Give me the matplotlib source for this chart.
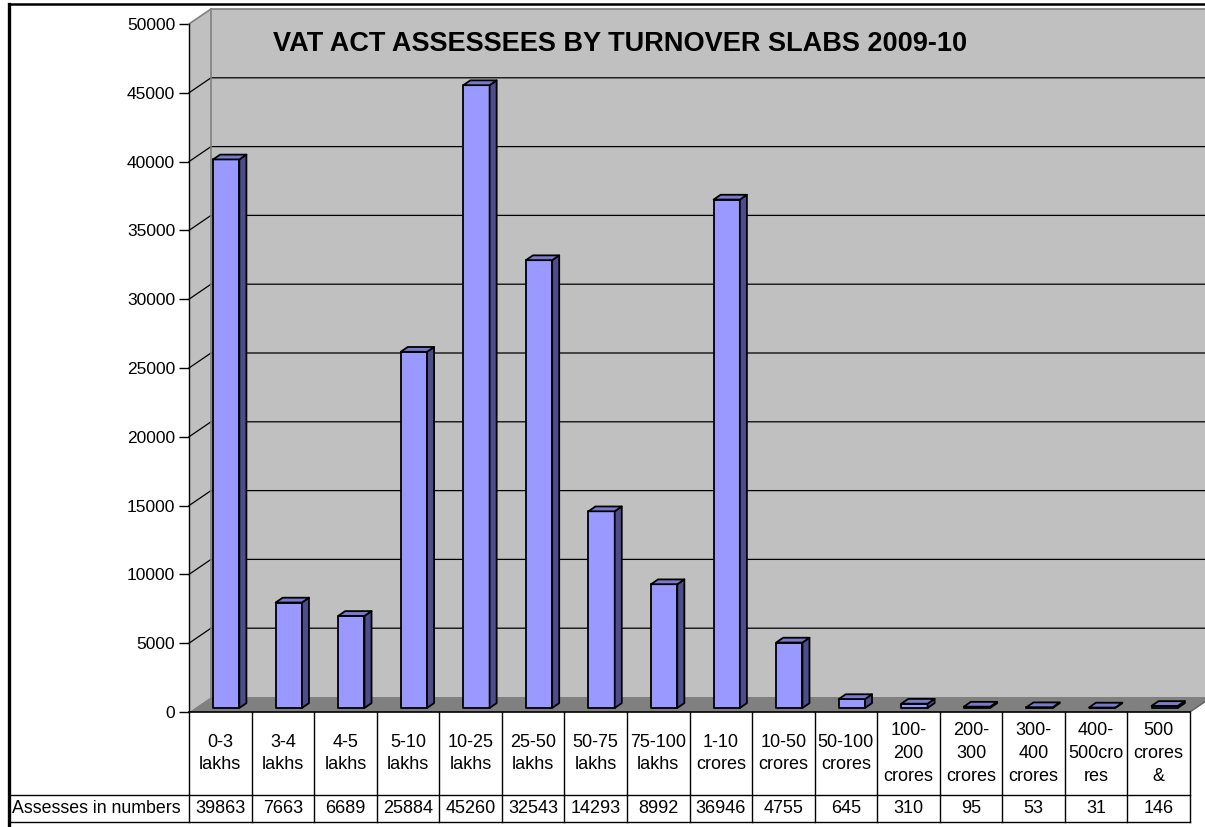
import matplotlib
matplotlib.use("Agg")
import matplotlib.pyplot as plt
from matplotlib.patches import Polygon
from matplotlib.lines import Line2D
from matplotlib.transforms import IdentityTransform

plt.rcParams['font.family'] = ['Liberation Sans', 'DejaVu Sans']

title = "VAT ACT ASSESSEES BY TURNOVER SLABS 2009-10"
slabs = ["0-3\nlakhs", "3-4\nlakhs", "4-5\nlakhs", "5-10\nlakhs", "10-25\nlakhs",
         "25-50\nlakhs", "50-75\nlakhs", "75-100\nlakhs", "1-10\ncrores",
         "10-50\ncrores", "50-100\ncrores", "100-\n200\ncrores", "200-\n300\ncrores",
         "300-\n400\ncrores", "400-\n500cro\nres", "500\ncrores\n&"]
assessees = [39863, 7663, 6689, 25884, 45260, 32543, 14293, 8992, 36946,
             4755, 645, 310, 95, 53, 31, 146]
row_label = "Assesses in numbers"
yticks = list(range(0, 50001, 5000))

W, H = 1205, 827
fig = plt.figure(figsize=(W / 100, H / 100), dpi=100)
ax = fig.add_axes([189 / W, 1 - 712 / H, (1190 - 189) / W, (712 - 24) / H])
n = len(slabs)
ax.set_xlim(0, n)
ax.set_ylim(0, 50000)
ax.patch.set_visible(False)
for s in ['top', 'right', 'bottom']:
    ax.spines[s].set_visible(False)
ax.spines['left'].set_linewidth(1.0)
ax.spines['left'].set_zorder(6)
ax.set_xticks([])
ax.set_yticks(yticks)
ax.tick_params(axis='y', length=7, width=1, pad=3, labelsize=12.5)

# depth of the 3d box in pixels
DX, DY = 22, 15


def px(x, y, d=0.0):
    X, Y = ax.transData.transform((x, y))
    return (X + d * DX, Y + d * DY)


def poly(pts, z, **kw):
    p = Polygon(pts, closed=True, transform=IdentityTransform(), clip_on=False,
                zorder=z, **kw)
    ax.add_artist(p)


def line(pts, z, **kw):
    xs = [p[0] for p in pts]
    ys = [p[1] for p in pts]
    ax.add_artist(Line2D(xs, ys, transform=IdentityTransform(), clip_on=False,
                         zorder=z, **kw))


top_v = yticks[-1]
# walls and floor
poly([px(0, 0), px(0, top_v), px(0, top_v, 1), px(0, 0, 1)], 1, fc='#c0c0c0', ec='none')
poly([px(0, 0, 1), px(0, top_v, 1), px(n, top_v, 1), px(n, 0, 1)], 1, fc='#c0c0c0', ec='none')
for t in yticks[1:-1]:
    line([px(0, t), px(0, t, 1), px(n, t, 1)], 2, color='black', lw=0.9)
line([px(0, top_v), px(0, top_v, 1), px(n, top_v, 1)], 2, color='#808080', lw=1.2)
line([px(0, 0, 1), px(0, top_v, 1)], 2, color='#808080', lw=1.2)
poly([px(0, 0), px(n, 0), px(n, 0, 1), px(0, 0, 1)], 3, fc='#808080', ec='none')
line([px(n, 0), px(n, 0, 1)], 3, color='#606060', lw=1)

# bars
bw = 0.42
f0, f1 = 0.27, 0.59
for i, v in enumerate(assessees):
    x0 = i + 0.5 - bw / 2
    x1 = x0 + bw
    kw = dict(ec='black', lw=1.3, joinstyle='round')
    poly([px(x0, 0, f0), px(x1, 0, f0), px(x1, v, f0), px(x0, v, f0)], 4, fc='#9999ff', **kw)
    poly([px(x1, 0, f0), px(x1, 0, f1), px(x1, v, f1), px(x1, v, f0)], 4, fc='#4d4d8c', **kw)
    poly([px(x0, v, f0), px(x1, v, f0), px(x1, v, f1), px(x0, v, f1)], 4, fc='#7a7acc', **kw)

# data table below the chart
xt = ax.get_xaxis_transform()
r1 = -(795 - 712) / 688
r2 = -(822 - 712) / 688
left_edge = (10 - 189) / 1001
for i in range(n + 1):
    ax.plot([i, i], [0, r2], transform=xt, color='black', lw=1, clip_on=False, zorder=5)
ax.plot([0, 1], [0, 0], transform=ax.transAxes, color='black', lw=1.2, clip_on=False, zorder=5)
for r in (r1, r2):
    ax.plot([left_edge, 1], [r, r], transform=ax.transAxes, color='black', lw=1,
            clip_on=False, zorder=5)
for i, (lab, v) in enumerate(zip(slabs, assessees)):
    ax.text(i + 0.5, r1 / 2, lab, transform=xt, ha='center', va='center',
            fontsize=13, linespacing=1.45)
    ax.text(i + 0.5, (r1 + r2) / 2, str(v), transform=xt, ha='center', va='center',
            fontsize=13)
ax.text(left_edge + 0.002, (r1 + r2) / 2, row_label, transform=ax.transAxes,
        ha='left', va='center', fontsize=12.8)

# chart area border (left and top visible)
fig.add_artist(Line2D([8.5 / W, 8.5 / W], [0, 1 - 4 / H], transform=fig.transFigure,
                      color='black', lw=2.4))
fig.add_artist(Line2D([8.5 / W, 1], [1 - 4 / H, 1 - 4 / H], transform=fig.transFigure,
                      color='black', lw=1.8))

fig.text(620 / W, 1 - 44 / H, title, ha='center', va='center',
         fontsize=19.5, fontweight='bold')

fig.savefig('out.png', dpi=100)
